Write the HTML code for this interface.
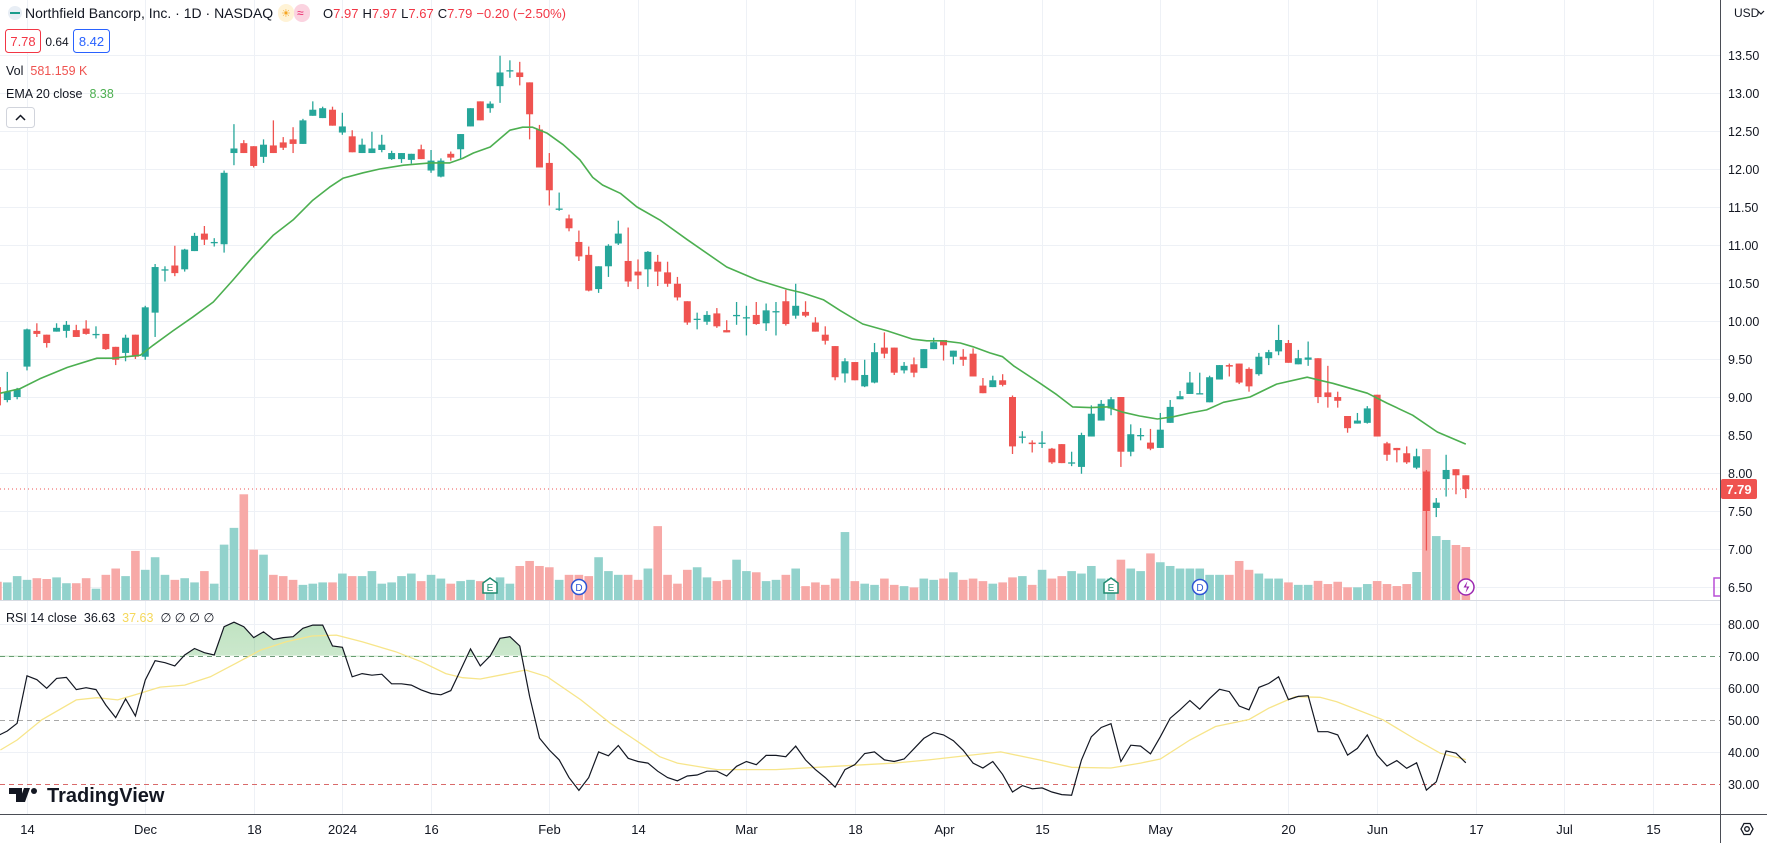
<!DOCTYPE html>
<html><head><meta charset="utf-8"><style>
html,body{margin:0;padding:0;background:#fff;}
svg{display:block;font-family:"Liberation Sans",sans-serif;}
</style></head><body>
<svg id="chart" width="1767" height="843" viewBox="0 0 1767 843" xmlns="http://www.w3.org/2000/svg">
<defs>
<clipPath id="mainClip"><rect x="0" y="0" width="1720" height="600"/></clipPath>
<clipPath id="rsiClip"><rect x="0" y="601" width="1720" height="213"/></clipPath>
<clipPath id="obClip"><rect x="0" y="601" width="1720" height="55.7"/></clipPath>
<linearGradient id="obGrad" x1="0" y1="0" x2="0" y2="1"><stop offset="0" stop-color="#4caf50" stop-opacity="0.35"/><stop offset="1" stop-color="#4caf50" stop-opacity="0.04"/></linearGradient>
</defs>
<rect x="0" y="0" width="1767" height="843" fill="#fff"/>
<g id="grid"></g>
<g id="volG" clip-path="url(#mainClip)"></g>
<g id="candleG" clip-path="url(#mainClip)"></g>
<g id="emaG" clip-path="url(#mainClip)"></g>
<g id="rsiG"></g>
<g id="axisG"></g>

<!-- header -->
<g>
  <circle cx="15" cy="13" r="7" fill="#e8eef5"/>
  <rect x="10" y="12" width="10" height="2" fill="#1a9c8c"/>
  <text x="25" y="18" font-size="14" fill="#131722">Northfield Bancorp, Inc. · 1D · NASDAQ</text>
  <rect x="278" y="4" width="16" height="18" rx="8" fill="#fff3d6"/>
  <text x="281" y="17" font-size="11" fill="#f5a623">☀</text>
  <rect x="294" y="4" width="16" height="18" rx="8" fill="#fbd3e0"/>
  <text x="297" y="17" font-size="12" fill="#e91e63">≈</text>
  <text x="323" y="18" font-size="13"><tspan fill="#131722">O</tspan><tspan fill="#f23645">7.97</tspan><tspan fill="#131722" dx="4">H</tspan><tspan fill="#f23645">7.97</tspan><tspan fill="#131722" dx="4">L</tspan><tspan fill="#f23645">7.67</tspan><tspan fill="#131722" dx="4">C</tspan><tspan fill="#f23645">7.79</tspan><tspan fill="#f23645" dx="4">−0.20 (−2.50%)</tspan></text>
  <rect x="5.5" y="29.5" width="35" height="23" rx="3" fill="#fff" stroke="#f23645"/>
  <text x="23" y="46" font-size="13" fill="#f23645" text-anchor="middle">7.78</text>
  <text x="57" y="46" font-size="12" fill="#131722" text-anchor="middle">0.64</text>
  <rect x="73.5" y="29.5" width="36" height="23" rx="3" fill="#fff" stroke="#2962ff"/>
  <text x="91.5" y="46" font-size="13" fill="#2962ff" text-anchor="middle">8.42</text>
  <text x="6" y="75" font-size="12.5"><tspan fill="#131722">Vol</tspan><tspan fill="#ef5350" dx="7">581.159 K</tspan></text>
  <text x="6" y="98" font-size="12.5"><tspan fill="#131722">EMA 20 close</tspan><tspan fill="#4caf50" dx="7">8.38</tspan></text>
  <rect x="6.5" y="107.5" width="28" height="20" rx="3" fill="#fff" stroke="#d1d4dc"/>
  <path d="M16 120 L20.5 115.5 L25 120" fill="none" stroke="#131722" stroke-width="1.5"/>
  <text x="6" y="622" font-size="12.5"><tspan fill="#131722">RSI 14 close</tspan><tspan fill="#131722" dx="7">36.63</tspan><tspan fill="#f5d85b" dx="7">37.63</tspan><tspan fill="#131722" dx="7">∅ ∅ ∅ ∅</tspan></text>
</g>

<!-- logo -->
<g>
  <path d="M9 788 h13 v14 h-6 v-8 h-7z M24 788 h6 l-5 14 h-6z" fill="#131722"/>
  <circle cx="34" cy="791" r="3" fill="#131722"/>
  <text x="47" y="802" font-size="20" font-weight="bold" fill="#131722">TradingView</text>
</g>

<script>
const opens=[9.13,8.96,9.00,9.40,9.87,9.82,9.86,9.87,9.88,9.90,9.83,9.83,9.66,9.58,9.82,9.53,10.11,10.68,10.73,10.68,10.92,11.15,11.04,11.01,12.21,12.34,12.30,12.16,12.31,12.35,12.39,12.33,12.70,12.67,12.78,12.48,12.43,12.21,12.21,12.25,12.13,12.13,12.12,12.26,11.98,11.90,12.20,12.26,12.56,12.89,12.80,13.09,13.30,13.27,13.14,12.52,12.08,11.48,11.35,11.04,10.87,10.42,10.72,11.02,10.79,10.65,10.68,10.78,10.64,10.49,10.26,10.03,9.99,10.10,9.88,10.08,10.05,10.08,9.97,10.13,10.26,10.07,10.12,9.98,9.82,9.67,9.31,9.46,9.14,9.19,9.65,9.65,9.35,9.43,9.38,9.63,9.75,9.53,9.53,9.57,9.15,9.13,9.22,9.00,8.48,8.40,8.40,8.32,8.38,8.14,8.08,8.48,8.69,8.85,9.00,8.28,8.50,8.40,8.33,8.66,8.97,9.04,9.05,8.93,9.23,9.42,9.44,9.37,9.30,9.51,9.60,9.71,9.43,9.49,9.51,9.06,9.00,8.75,8.65,8.66,9.03,8.39,8.33,8.26,8.07,8.02,7.54,7.92,8.05,7.97];
const highs=[9.15,9.33,9.12,9.90,9.97,9.82,9.97,10.00,9.95,10.01,9.93,9.83,9.66,9.82,9.82,10.20,10.75,10.72,10.99,10.95,11.16,11.25,11.09,11.98,12.59,12.38,12.30,12.39,12.64,12.42,12.55,12.66,12.89,12.82,12.82,12.74,12.51,12.40,12.49,12.45,12.24,12.21,12.20,12.32,12.25,12.14,12.23,12.46,12.80,12.89,12.89,13.49,13.43,13.41,13.14,12.58,12.21,11.69,11.40,11.19,10.98,10.72,11.01,11.32,11.23,10.81,10.92,10.87,10.78,10.58,10.26,10.11,10.13,10.17,10.01,10.25,10.20,10.25,10.23,10.25,10.41,10.49,10.26,10.05,9.93,9.67,9.51,9.46,9.49,9.71,9.85,9.65,9.46,9.52,9.63,9.78,9.75,9.61,9.63,9.64,9.25,9.28,9.30,9.02,8.55,8.43,8.55,8.33,8.38,8.28,8.53,8.89,8.96,9.00,9.00,8.64,8.59,8.58,8.79,8.96,9.08,9.33,9.32,9.28,9.42,9.44,9.44,9.39,9.58,9.62,9.95,9.75,9.62,9.73,9.51,9.41,9.07,8.75,8.79,8.88,9.03,8.41,8.33,8.35,8.32,8.04,7.67,8.24,8.05,7.97];
const lows=[8.88,8.93,8.97,9.35,9.79,9.65,9.86,9.78,9.79,9.82,9.77,9.62,9.42,9.47,9.50,9.49,9.79,10.52,10.59,10.65,10.92,11.00,10.98,10.90,12.05,12.21,12.02,12.08,12.21,12.25,12.21,12.33,12.70,12.67,12.57,12.45,12.22,12.21,12.21,12.22,12.12,12.08,12.07,12.13,11.95,11.89,12.11,12.14,12.56,12.64,12.74,12.87,13.20,13.10,12.39,12.02,11.52,11.45,11.18,10.79,10.39,10.37,10.58,11.00,10.45,10.42,10.45,10.46,10.45,10.27,9.95,9.89,9.95,9.91,9.85,9.95,9.81,9.95,9.87,9.81,9.94,10.03,10.05,9.86,9.69,9.22,9.19,9.22,9.13,9.18,9.51,9.29,9.31,9.26,9.38,9.63,9.48,9.43,9.41,9.27,9.05,9.13,9.14,8.25,8.39,8.27,8.33,8.12,8.13,8.09,7.99,8.48,8.69,8.76,8.08,8.22,8.43,8.30,8.33,8.66,8.97,9.04,9.04,8.93,9.23,9.27,9.17,9.07,9.28,9.42,9.55,9.45,9.43,9.41,8.92,8.86,8.86,8.53,8.65,8.65,8.48,8.16,8.14,8.12,8.05,6.98,7.42,7.69,7.72,7.67];
const closes=[8.89,9.07,9.10,9.89,9.83,9.71,9.91,9.95,9.79,9.83,9.83,9.63,9.49,9.78,9.53,10.18,10.71,10.68,10.63,10.94,11.12,11.07,11.04,11.95,12.27,12.21,12.04,12.32,12.21,12.28,12.33,12.64,12.78,12.80,12.57,12.56,12.22,12.32,12.27,12.32,12.21,12.21,12.20,12.13,12.11,12.11,12.15,12.46,12.80,12.64,12.86,13.27,13.30,13.21,12.72,12.02,11.72,11.48,11.22,10.85,10.40,10.72,10.99,11.15,10.52,10.60,10.91,10.65,10.49,10.31,9.98,10.03,10.08,9.93,9.85,10.08,10.05,9.96,10.14,10.13,9.96,10.20,10.07,9.86,9.74,9.26,9.47,9.22,9.29,9.59,9.57,9.32,9.41,9.32,9.63,9.72,9.68,9.61,9.49,9.27,9.05,9.22,9.16,8.35,8.48,8.38,8.40,8.14,8.13,8.14,8.50,8.78,8.91,8.97,8.28,8.51,8.50,8.32,8.57,8.87,9.01,9.19,9.05,9.26,9.42,9.40,9.19,9.14,9.53,9.59,9.75,9.45,9.51,9.52,9.00,9.00,8.95,8.59,8.69,8.85,8.48,8.24,8.30,8.14,8.22,7.50,7.61,8.04,7.97,7.79];
const volumes=[200,193,262,221,239,230,248,184,184,239,124,276,345,262,538,331,469,276,221,239,193,317,179,607,791,1159,552,497,276,262,221,166,179,193,193,290,262,262,317,179,193,262,290,207,276,235,179,207,221,207,207,248,179,373,428,373,359,221,276,276,262,469,317,276,276,221,345,810,276,179,331,359,248,207,221,442,317,304,207,221,276,345,152,193,166,235,745,207,179,166,235,166,152,138,235,221,235,304,221,235,207,179,193,248,262,166,331,235,262,317,290,373,235,235,442,345,317,511,414,373,345,345,345,276,276,276,428,331,290,235,235,193,166,166,210,175,200,139,139,175,208,175,153,175,307,1655,701,658,603,581];
const rsiVals=[45,46.5,48.9,63.7,62.5,59.8,62.9,63.2,59.4,60.0,59.4,54.6,50.7,56.5,51.2,62.4,68.4,67.8,66.8,70.2,72.2,70.9,70.2,79.0,80.4,79.0,75.6,77.4,75.0,75.6,75.9,78.5,79.5,79.5,73.0,72.6,63.4,64.4,63.9,64.2,61.2,61.2,60.8,59.3,58.2,57.8,59.1,65.5,72.1,66.8,69.9,75.4,75.9,73.0,57.3,44.3,40.6,37.5,32,28,32,40,38.8,42,38,37,36.5,34,32,31,32.5,32.8,34,34,32.5,35.5,37,36,38.9,38.9,38.5,41.8,37.5,34.5,32,29,34.5,36,39.5,40,37.5,37,37.8,41,44.2,46,45.3,43.5,40.5,36.5,35,37,33,27.5,29.5,28.5,28.8,27.5,26.7,26.5,37.5,44.7,47.6,48.8,37,42.1,41.8,39.4,44.7,50.5,53.1,56,53.3,56.6,59.5,58.8,54.3,53.1,60.1,61.3,63.4,56.3,57.3,57.5,46.3,46.3,45.3,39,41.1,45.3,39,35.6,37.3,34.9,36.6,28.1,30.7,40.3,39.6,36.6];
const firstIndex=-3;
const emaIdx=[-2.7,-0.7,1.3,4.1,7.1,8.7,11.5,12.8,14.8,16.8,18.9,20.9,22.9,25,27,29,30.7,32.1,34.1,35.8,38.2,40.9,42.9,44.2,45.3,47,49,50.3,51.3,52.8,54.4,56.1,57.4,58.4,60.2,61.9,64.2,67,71,74.1,77.1,78.7,80.8,82.5,84.8,87.3,89.9,91.3,92.9,94.7,96,97.7,99,100.1,102.8,104.5,106.1,107.9,109.6,111.2,112.9,114.7,116.3,118,119.7,121.4,124.1,126.8,129.9,131.2,132.5,136,138,140.6,143.1,146];
const emaVals=[9.05,9.11,9.24,9.39,9.51,9.51,9.55,9.68,9.87,10.05,10.25,10.54,10.84,11.13,11.33,11.59,11.76,11.88,11.95,12.0,12.05,12.08,12.08,12.14,12.21,12.29,12.51,12.55,12.55,12.47,12.32,12.12,11.89,11.79,11.68,11.5,11.33,11.07,10.71,10.54,10.42,10.37,10.28,10.14,9.96,9.87,9.76,9.74,9.74,9.71,9.66,9.58,9.53,9.41,9.18,9.03,8.87,8.86,8.87,8.80,8.75,8.71,8.74,8.79,8.83,8.93,9.0,9.17,9.26,9.22,9.18,9.05,8.92,8.76,8.54,8.38];
const rsiMaIdx=[-2.7,-1,1.5,5,7.1,9.2,11.4,13.5,16,18.6,21.2,23.7,26.3,28.9,31.4,34,37.4,40,42.5,44.2,46,48.5,50.6,52.8,56.2,59.2,62.2,64.2,66,70,76,82,88,91.5,96.7,98.8,102.7,106,110,113,115,118,120.6,124,126,128.7,131.2,132.9,137.6,141,143.4,146];
const rsiMaVals=[40.6,43.7,50,56.2,56.9,56.2,58.2,60.2,60.8,63.4,67.6,71.7,74.3,76.1,76.4,74.3,71.2,68.1,64.4,63.1,62.7,64.2,65.5,63.4,56.2,48.9,42.7,38.5,36.5,34.5,34.5,35.5,36.5,37.5,39.3,40,37.5,35.2,35,36.5,37.8,43.7,47.9,50.1,53.6,57.2,57,55.6,50,43.7,39.6,37.6];
const priceTicks=[13.5,13.0,12.5,12.0,11.5,11.0,10.5,10.0,9.5,9.0,8.5,8.0,7.5,7.0,6.5];
const rsiTicks=[80,70,60,50,40,30];
const dateLabels=["14","Dec","18","2024","16","Feb","14","Mar","18","Apr","15","May","20","Jun","17","Jul","15"];
const dateIdx=[0,12,23,32,41,53,62,73,84,93,103,115,128,137,147,156,165];
const lastPrice=7.79;

const NS="http://www.w3.org/2000/svg";
const xOf=i=>27+9.855*i;
const yP=p=>587-(p-6.5)*76;
const yR=r=>784-(r-30)*3.21;
const yV=v=>600-v*0.0912;
function mk(tag,attrs,parent){const e=document.createElementNS(NS,tag);for(const k in attrs)e.setAttribute(k,attrs[k]);parent.appendChild(e);return e;}
const grid=document.getElementById('grid');
const axisG=document.getElementById('axisG');
const GC="#eef1f6";
// vertical grid
dateIdx.forEach((d,k)=>{
  const x=Math.round(xOf(d))+0.5;
  const l=mk('line',{x1:x,x2:x,y1:0,y2:814,stroke:GC,'stroke-width':1},grid);
  
  
  const t=mk('text',{x:x,y:834,'font-size':13,fill:'#131722','text-anchor':'middle'},axisG);
  
  
  t.textContent=dateLabels[k];
});
// price grid + labels
priceTicks.forEach(p=>{
  const y=Math.round(yP(p))+0.5;
  const l=mk('line',{x1:0,x2:1720,y1:y,y2:y,stroke:GC,'stroke-width':1},grid);
  
  
  const t=mk('text',{x:1728,y:y+4.5,'font-size':12.5,fill:'#131722'},axisG);
  
  
  t.textContent=p.toFixed(2);
});
// rsi grid + labels
rsiTicks.forEach(r=>{
  const y=Math.round(yR(r))+0.5;
  let stroke=GC,dash=null;
  if(r===70){stroke="#6e9a7a";dash="5,4";}
  if(r===50){stroke="#a8a8a8";dash="5,4";}
  if(r===30){stroke="#d96a6a";dash="5,4";}
  const attrs={x1:0,x2:1720,y1:y,y2:y,stroke:stroke,'stroke-width':1};
  if(dash)attrs['stroke-dasharray']=dash;
  const l=mk('line',attrs,grid);
  
  
  const t=mk('text',{x:1728,y:y+4.5,'font-size':12.5,fill:'#131722'},axisG);
  
  
  t.textContent=r.toFixed(2);
});
// volumes
const volG=document.getElementById('volG');
volumes.forEach((v,k)=>{
  const i=k+firstIndex;const up=closes[k]>=opens[k];
  const y=yV(v);
  const b=mk('rect',{x:xOf(i)-4.3,y:y,width:8.6,height:600-y,fill:up?'#92d2cc':'#f7a9a7'},volG);
  
  
});
// candles
const cg=document.getElementById('candleG');
opens.forEach((o,k)=>{
  const i=k+firstIndex;const c=closes[k];const up=c>=o;const col=up?'#26a69a':'#ef5350';
  const x=xOf(i);
  const g=mk('g',{},cg);
  
  
  mk('line',{x1:x,x2:x,y1:yP(highs[k]),y2:yP(lows[k]),stroke:col,'stroke-width':1.3},g);
  const top=yP(Math.max(o,c)),bot=yP(Math.min(o,c));
  mk('rect',{x:x-3.5,y:top,width:7,height:Math.max(1.3,bot-top),fill:col},g);
});
// ema
const emaG=document.getElementById('emaG');
const emaPts=emaIdx.map((d,k)=>xOf(d).toFixed(1)+','+yP(emaVals[k]).toFixed(1)).join(' ');
const ema=mk('polyline',{points:emaPts,fill:'none',stroke:'#4caf50','stroke-width':1.6,'stroke-linejoin':'round'},emaG);


// last price line
const lp=mk('line',{x1:0,x2:1720,y1:yP(lastPrice),y2:yP(lastPrice),stroke:'#ef5350','stroke-width':1,'stroke-dasharray':'1,3'},emaG);


// rsi
const rsiG=document.getElementById('rsiG');
const rsiPtsArr=rsiVals.map((r,k)=>[xOf(k+firstIndex),yR(r)]);
const y70=yR(70);
const fillPts=rsiPtsArr.map(p=>p[0].toFixed(1)+','+p[1].toFixed(1)).join(' ')+' '+rsiPtsArr[rsiPtsArr.length-1][0].toFixed(1)+','+y70+' '+rsiPtsArr[0][0].toFixed(1)+','+y70;
const ob=mk('polygon',{points:fillPts,fill:'url(#obGrad)','clip-path':'url(#obClip)'},rsiG);


const maPts=rsiMaIdx.map((d,k)=>xOf(d).toFixed(1)+','+yR(rsiMaVals[k]).toFixed(1)).join(' ');
const ma=mk('polyline',{points:maPts,fill:'none',stroke:'#f7e58a','stroke-width':1.3,'clip-path':'url(#rsiClip)'},rsiG);


const rl=mk('polyline',{points:rsiPtsArr.map(p=>p[0].toFixed(1)+','+p[1].toFixed(1)).join(' '),fill:'none',stroke:'#131722','stroke-width':1.2,'clip-path':'url(#rsiClip)'},rsiG);


</script>

<!-- pane borders and axis chrome -->
<line x1="0" y1="600.5" x2="1720" y2="600.5" stroke="#d8dbe2"/>
<line x1="0" y1="814.5" x2="1767" y2="814.5" stroke="#4a4d55"/>
<line x1="1720.5" y1="0" x2="1720.5" y2="843" stroke="#4a4d55"/>
<text x="1734" y="17" font-size="12" fill="#131722">USD</text>
<path d="M1758 11 l3 3 l3 -3" fill="none" stroke="#131722" stroke-width="1.2"/>
<rect x="1721" y="479" width="36" height="20" rx="2" fill="#ef5350"/>
<text x="1739" y="494" font-size="13" font-weight="bold" fill="#fff" text-anchor="middle">7.79</text>
<path d="M1720 578 h-6 v18 h6" fill="none" stroke="#b84fd6" stroke-width="1.5"/>
<g>
  <polygon points="1741,829 1744,823.5 1750,823.5 1753,829 1750,834.5 1744,834.5" fill="none" stroke="#131722" stroke-width="1.3"/>
  <circle cx="1747" cy="829" r="2.3" fill="none" stroke="#131722" stroke-width="1.3"/>
</g>
<!-- event markers -->
<g>
  <path d="M483 593 v-10 l7 -5 l7 5 v10 z" fill="#fff" stroke="#1e8a6e" stroke-width="1.5"/>
  <text x="490" y="591" font-size="10" fill="#1e8a6e" text-anchor="middle">E</text>
</g>
<g>
  <circle cx="579" cy="587" r="7.5" fill="#fff" stroke="#2f55d4" stroke-width="1.5"/>
  <text x="579" y="591" font-size="10" fill="#2f55d4" text-anchor="middle">D</text>
</g>
<g>
  <path d="M1104 593 v-10 l7 -5 l7 5 v10 z" fill="#fff" stroke="#1e8a6e" stroke-width="1.5"/>
  <text x="1111" y="591" font-size="10" fill="#1e8a6e" text-anchor="middle">E</text>
</g>
<g>
  <circle cx="1200" cy="587" r="7.5" fill="#fff" stroke="#2f55d4" stroke-width="1.5"/>
  <text x="1200" y="591" font-size="10" fill="#2f55d4" text-anchor="middle">D</text>
</g>
<g>
  <circle cx="1466" cy="587" r="8" fill="#fff" stroke="#9c27b0" stroke-width="1.5"/>
  <path d="M1467.5 581 l-4 6.5 h3.5 l-1.5 5.5 l4 -6.5 h-3.5 z" fill="#9c27b0"/>
</g>
</svg>
</body></html>
